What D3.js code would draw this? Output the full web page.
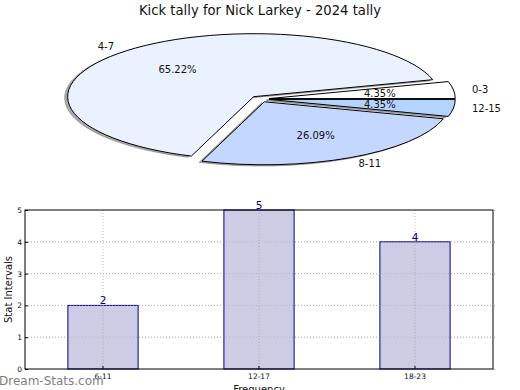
<!DOCTYPE html>
<html>
<head>
<meta charset="utf-8">
<script src="https://cdn.jsdelivr.net/npm/d3@7"></script>
<style>
  body { margin: 0; background: #fff; }
  svg { display: block; font-family: "DejaVu Sans", sans-serif; }
</style>
</head>
<body>
<svg id="chart" width="520" height="390"></svg>
<script>
// pie data
const pieLabels = ['0-3', '4-7', '8-11', '12-15'];
const pieValues = [1, 15, 6, 1];
const pieColors = ['#ffffff', '#eaf1ff', '#c4d8ff', '#b4d4ff'];

// bar data
const barCategories = ['6-11', '12-17', '18-23'];
const barValues = [2, 5, 4];
const yTicks = [0, 1, 2, 3, 4, 5];

const svg = d3.select('#chart');

// title
svg.append('text')
    .attr('x', 260).attr('y', 15)
    .attr('text-anchor', 'middle')
    .attr('font-size', 13.2)
    .attr('fill', '#111')
    .text('Kick tally for Nick Larkey - 2024 tally');

// ---- pie (elliptical, exploded, with shadow) ----
const cx = 260, cy = 99, rx = 186, ry = 63;
const explode = 0.05;
const total = d3.sum(pieValues);

// counter-clockwise from 3 o'clock, like matplotlib
const pie = d3.pie().sort(null).startAngle(Math.PI / 2).endAngle(Math.PI / 2 - 2 * Math.PI);
const arcs = pie(pieValues);
const arc = d3.arc().innerRadius(0).outerRadius(rx);
const mid = d => (d.startAngle + d.endAngle) / 2;

const pieG = svg.append('g')
    .attr('transform', `translate(${cx},${cy}) scale(1,${ry / rx})`);

// shadows first
pieG.selectAll('path.shadow')
    .data(arcs)
    .join('path')
    .attr('class', 'shadow')
    .attr('transform', d => `translate(${explode * rx * Math.sin(mid(d)) - 0.016 * rx},${-explode * rx * Math.cos(mid(d)) + 0.02 * rx})`)
    .attr('d', arc)
    .attr('fill', '#555')
    .attr('fill-opacity', 0.5)
    .attr('stroke', '#555')
    .attr('stroke-opacity', 0.4)
    .attr('vector-effect', 'non-scaling-stroke');

pieG.selectAll('path.wedge')
    .data(arcs)
    .join('path')
    .attr('class', 'wedge')
    .attr('transform', d => `translate(${explode * rx * Math.sin(mid(d))},${-explode * rx * Math.cos(mid(d))})`)
    .attr('d', arc)
    .attr('fill', (d, i) => pieColors[i])
    .attr('stroke', '#000')
    .attr('stroke-width', 1)
    .attr('vector-effect', 'non-scaling-stroke');

// labels outside (1.1 r) and percentages (0.6 r)
arcs.forEach((d, i) => {
    const a = mid(d);
    const ox = explode * rx * Math.sin(a), oy = -explode * ry * Math.cos(a);
    const lx = cx + ox + 1.1 * rx * Math.sin(a);
    const ly = cy + oy - 1.1 * ry * Math.cos(a);
    svg.append('text')
        .attr('x', lx).attr('y', ly)
        .attr('dy', '0.35em')
        .attr('text-anchor', Math.sin(a) >= 0 ? 'start' : 'end')
        .attr('font-size', 10)
        .attr('fill', '#111')
        .text(pieLabels[i]);
    const px = cx + ox + 0.6 * rx * Math.sin(a);
    const py = cy + oy - 0.6 * ry * Math.cos(a);
    svg.append('text')
        .attr('x', px).attr('y', py)
        .attr('dy', '0.35em')
        .attr('text-anchor', 'middle')
        .attr('font-size', 10)
        .attr('fill', '#111')
        .text((pieValues[i] / total * 100).toFixed(2) + '%');
});

// ---- bar chart ----
const plotLeft = 25, plotRight = 493, plotTop = 210, plotBottom = 369;

const x = d3.scaleBand()
    .domain(barCategories)
    .range([plotLeft, plotRight])
    .paddingInner(0.55)
    .paddingOuter(0.275);

const y = d3.scaleLinear().domain([0, 5]).range([plotBottom, plotTop]);

const barG = svg.append('g');

// grid
barG.selectAll('line.hgrid')
    .data(yTicks.slice(1, -1))
    .join('line')
    .attr('x1', plotLeft).attr('x2', plotRight)
    .attr('y1', d => y(d)).attr('y2', d => y(d))
    .attr('stroke', '#bbb')
    .attr('stroke-dasharray', '1,2');

barG.selectAll('line.vgrid')
    .data(barCategories)
    .join('line')
    .attr('x1', d => x(d) + x.bandwidth() / 2).attr('x2', d => x(d) + x.bandwidth() / 2)
    .attr('y1', plotTop).attr('y2', plotBottom)
    .attr('stroke', '#bbb')
    .attr('stroke-dasharray', '1,2');

// bars
barG.selectAll('rect.bar')
    .data(barValues)
    .join('rect')
    .attr('x', (d, i) => x(barCategories[i]))
    .attr('y', d => y(d))
    .attr('width', x.bandwidth())
    .attr('height', d => plotBottom - y(d))
    .attr('fill', '#ccccE4')
    .attr('stroke', '#00008b')
    .attr('stroke-width', 1);

// grid passes over bars too
barG.selectAll('line.vgrid2')
    .data(barCategories)
    .join('line')
    .attr('x1', d => x(d) + x.bandwidth() / 2).attr('x2', d => x(d) + x.bandwidth() / 2)
    .attr('y1', d => y(barValues[barCategories.indexOf(d)])).attr('y2', plotBottom)
    .attr('stroke', '#aaa')
    .attr('stroke-dasharray', '1,2');
barG.selectAll('line.hgrid2')
    .data(yTicks.slice(1, -1))
    .join('line')
    .attr('x1', plotLeft).attr('x2', plotRight)
    .attr('y1', d => y(d)).attr('y2', d => y(d))
    .attr('stroke', '#aaa')
    .attr('stroke-dasharray', '1,2')
    .attr('stroke-opacity', 0.6);

// value labels
barG.selectAll('text.val')
    .data(barValues)
    .join('text')
    .attr('x', (d, i) => x(barCategories[i]) + x.bandwidth() / 2)
    .attr('y', d => y(d) - 1)
    .attr('text-anchor', 'middle')
    .attr('font-size', 10.5)
    .attr('fill', '#00008b')
    .text(d => d);

// frame
barG.append('rect')
    .attr('x', plotLeft).attr('y', plotTop)
    .attr('width', plotRight - plotLeft).attr('height', plotBottom - plotTop)
    .attr('fill', 'none')
    .attr('stroke', '#000')
    .attr('stroke-width', 1);

// axes
const yAxis = d3.axisLeft(y).tickValues(yTicks).tickFormat(d3.format('d')).tickSize(-3).tickPadding(3);
barG.append('g')
    .attr('transform', `translate(${plotLeft},0)`)
    .call(yAxis)
    .call(g => g.select('.domain').remove())
    .call(g => g.selectAll('text').attr('font-size', 7.5).attr('font-family', 'DejaVu Sans').attr('fill', '#111'));

const yAxisR = d3.axisRight(y).tickValues(yTicks).tickSize(2).tickFormat('');
barG.append('g')
    .attr('transform', `translate(${plotRight},0)`)
    .call(yAxisR)
    .call(g => g.select('.domain').remove())
    .call(g => g.selectAll('line').attr('stroke', '#999'));

const xAxis = d3.axisBottom(x).tickSize(-3).tickPadding(5);
barG.append('g')
    .attr('transform', `translate(0,${plotBottom})`)
    .call(xAxis)
    .call(g => g.select('.domain').remove())
    .call(g => g.selectAll('text').attr('font-size', 7.5).attr('font-family', 'DejaVu Sans').attr('fill', '#111'));

// axis titles
svg.append('text')
    .attr('transform', `translate(12,${(plotTop + plotBottom) / 2}) rotate(-90)`)
    .attr('text-anchor', 'middle')
    .attr('font-size', 10)
    .attr('fill', '#111')
    .text('Stat Intervals');

svg.append('text')
    .attr('x', (plotLeft + plotRight) / 2).attr('y', 393)
    .attr('text-anchor', 'middle')
    .attr('font-size', 10)
    .attr('fill', '#111')
    .text('Frequency');

// watermark
svg.append('text')
    .attr('x', -1).attr('y', 385)
    .attr('font-size', 12)
    .attr('fill', '#808080')
    .text('Dream-Stats.com');
</script>
</body>
</html>
